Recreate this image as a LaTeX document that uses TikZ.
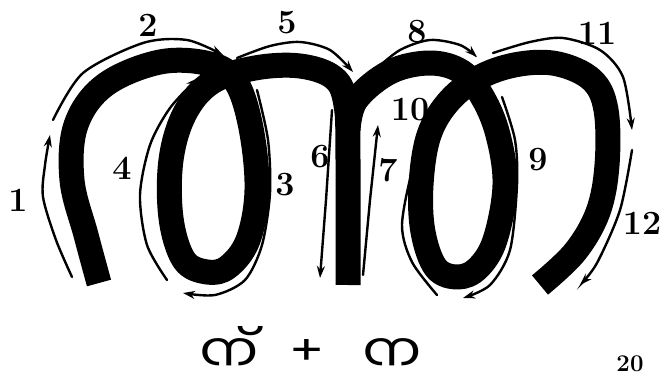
\documentclass[tikz,border=0pt]{standalone}
\usepackage{fontspec}
\newfontfamily\malfont[Script=Malayalam]{Hind Kochi}
\usetikzlibrary{arrows.meta}

\begin{document}
\begin{tikzpicture}[x=1pt,y=-1pt]
\tikzset{band/.style={draw=black,line width=25pt,line join=round}}
\tikzset{guide/.style={line width=2.4pt,line cap=round,-{Stealth[length=12pt,width=8pt]}}}
\tikzset{num/.style={font=\fontsize{34}{34}\bfseries\selectfont,inner sep=0pt}}
\tikzset{mal/.style={font=\malfont\fontsize{46}{46}\selectfont,inner sep=0pt,text depth=0pt,anchor=base}}
\useasboundingbox (0,0) rectangle (663,379);
\clip (0,0) rectangle (663,379);

% first letter
\draw[band] plot[smooth,tension=0.6] coordinates {(99,283) (86,235) (72,180) (76,125) (105,85) (160,62) (210,64) (236,82) (251,128) (257,190) (248,240) (228,267) (207,272) (184,260) (171,218) (171,160) (185,113) (212,82) (255,68) (300,66) (334,78) (346,105) (348,160) (348,285)};

% second letter
\draw[band] plot[smooth,tension=0.6] coordinates {(348,130) (356,100) (390,72) (430,63) (462,72) (483,98) (498,135) (505,185) (495,240) (478,268) (458,277) (436,268) (423,232) (421,185) (429,135) (450,100) (482,76) (520,64) (558,64) (592,80) (606,110) (607,165) (598,212) (575,252) (540,285)};

% stroke order
\draw[guide] plot[smooth] coordinates {(72,277) (56,240) (43,197) (45,165) (50,135)};
\draw[guide] plot[smooth] coordinates {(53,120) (83,73) (143,43) (187,40) (223,55)};
\draw[guide] plot[smooth] coordinates {(257,90) (268,140) (270,193) (262,245) (245,280) (215,295) (183,293)};
\draw[guide] plot[smooth] coordinates {(167,280) (147,245) (140,195) (150,145) (170,108) (198,78)};
\draw[guide] plot[smooth] coordinates {(237,58) (270,46) (300,42) (330,50) (353,72)};
\draw[guide] (332,110) -- (326,200) -- (320,278);
\draw[guide] (363,275) -- (370,200) -- (378,125);
\draw[guide] plot[smooth] coordinates {(375,70) (400,50) (430,40) (460,45) (477,57)};
\draw[guide] plot[smooth] coordinates {(502,97) (515,140) (517,185) (510,250) (490,285) (463,298)};
\draw[guide] plot[smooth] coordinates {(437,295) (412,262) (402,225) (413,167) (428,125) (448,87)};
\draw[guide] plot[smooth] coordinates {(493,53) (530,42) (563,38) (600,50) (623,77) (632,130)};
\draw[guide] plot[smooth] coordinates {(632,150) (620,210) (597,263) (580,285)};

% numbers
\node[num] (n1) at (18,200) {1};
\node[num] (n2) at (148,25) {2};
\node[num] (n3) at (285,185) {3};
\node[num] (n4) at (122,168) {4};
\node[num] (n5) at (287,23) {5};
\node[num] (n6) at (320,157) {6};
\node[num] (n7) at (388,170) {7};
\node[num] (n8) at (417,32) {8};
\node[num] (n9) at (538,160) {9};
\node[num] (n10) at (410,110) {10};
\node[num] (n11) at (597,33) {11};
\node[num] (n12) at (642,223) {12};

% letters below
\node[mal] (left) at (229,365) {\scalebox{1.35}[1]{ന്}};
\node[mal] (plus) at (307,365) {\scalebox{1.3}[1]{+}};
\node[mal] (right) at (392,365) {\scalebox{1.35}[1]{ന}};
\node[font=\fontsize{24}{24}\bfseries\selectfont,inner sep=0pt] (page) at (630,364) {20};
\end{tikzpicture}
\end{document}
